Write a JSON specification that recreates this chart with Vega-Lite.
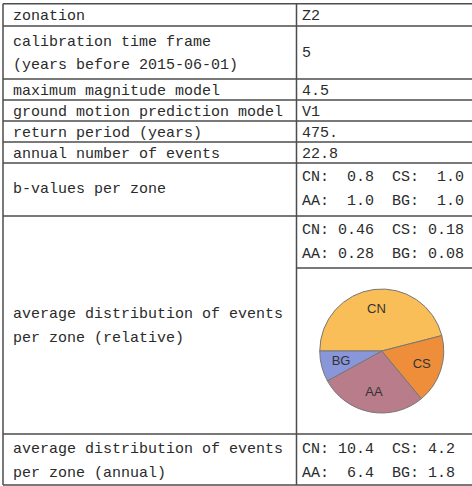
{
  "$schema": "https://vega.github.io/schema/vega-lite/v6.json",
  "width": 472,
  "height": 486,
  "autosize": "none",
  "padding": 0,
  "background": "white",
  "config": {"view": {"stroke": null}},
  "datasets": {
    "rules": [
      {"col": 0, "col2": 4, "slot": 0, "slot2": 0},
      {"col": 0, "col2": 4, "slot": 2, "slot2": 2},
      {"col": 0, "col2": 4, "slot": 5, "slot2": 5},
      {"col": 0, "col2": 4, "slot": 7, "slot2": 7},
      {"col": 0, "col2": 4, "slot": 9, "slot2": 9},
      {"col": 0, "col2": 4, "slot": 11, "slot2": 11},
      {"col": 0, "col2": 4, "slot": 13, "slot2": 13},
      {"col": 0, "col2": 4, "slot": 16, "slot2": 16},
      {"col": 2, "col2": 4, "slot": 19, "slot2": 19},
      {"col": 0, "col2": 4, "slot": 22, "slot2": 22},
      {"col": 0, "col2": 4, "slot": 25, "slot2": 25},
      {"col": 0, "col2": 0, "slot": 0, "slot2": 25},
      {"col": 2, "col2": 2, "slot": 0, "slot2": 25}
    ],
    "texts": [
      {"col": 1, "slot": 1, "text": "zonation"},
      {"col": 3, "slot": 1, "text": "Z2"},
      {"col": 1, "slot": 3, "text": "calibration time frame"},
      {"col": 1, "slot": 4, "text": "(years before 2015-06-01)"},
      {"col": 3, "slot": 3.5, "text": "5"},
      {"col": 1, "slot": 6, "text": "maximum magnitude model"},
      {"col": 3, "slot": 6, "text": "4.5"},
      {"col": 1, "slot": 8, "text": "ground motion prediction model"},
      {"col": 3, "slot": 8, "text": "V1"},
      {"col": 1, "slot": 10, "text": "return period (years)"},
      {"col": 3, "slot": 10, "text": "475."},
      {"col": 1, "slot": 12, "text": "annual number of events"},
      {"col": 3, "slot": 12, "text": "22.8"},
      {"col": 1, "slot": 14.5, "text": "b-values per zone"},
      {"col": 3, "slot": 14, "text": "CN:\u00a0\u00a00.8\u00a0\u00a0CS:\u00a0\u00a01.0"},
      {"col": 3, "slot": 15, "text": "AA:\u00a0\u00a01.0\u00a0\u00a0BG:\u00a0\u00a01.0"},
      {"col": 3, "slot": 17, "text": "CN:\u00a00.46\u00a0\u00a0CS:\u00a00.18"},
      {"col": 3, "slot": 18, "text": "AA:\u00a00.28\u00a0\u00a0BG:\u00a00.08"},
      {"col": 1, "slot": 20, "text": "average distribution of events"},
      {"col": 1, "slot": 21, "text": "per zone (relative)"},
      {"col": 1, "slot": 23, "text": "average distribution of events"},
      {"col": 1, "slot": 24, "text": "per zone (annual)"},
      {"col": 3, "slot": 23, "text": "CN:\u00a010.4\u00a0\u00a0CS:\u00a04.2"},
      {"col": 3, "slot": 24, "text": "AA:\u00a0\u00a06.4\u00a0\u00a0BG:\u00a01.8"}
    ],
    "pie": [
      {"zone": "CN", "share": 0.46, "idx": 1},
      {"zone": "CS", "share": 0.18, "idx": 2},
      {"zone": "AA", "share": 0.28, "idx": 3},
      {"zone": "BG", "share": 0.08, "idx": 4}
    ]
  },
  "layer": [
    {
      "encoding": {
        "x": {"field": "col", "type": "quantitative", "axis": null,
              "scale": {"domain": [0, 1, 2, 3, 4], "range": [3, 13, 296.5, 302, 472], "nice": false, "zero": false}},
        "y": {"field": "slot", "type": "quantitative", "axis": null,
              "scale": {"domain": [0, 1, 2, 3, 4, 5, 6, 7, 8, 9, 10, 11, 12, 13, 14, 15, 16, 17, 18, 19, 20, 21, 22, 23, 24, 25],
                        "range": [3.75, 15, 26, 40.5, 64, 79, 89.5, 100, 110.5, 121, 131.5, 142, 152.5, 163, 176, 199.5, 216, 229, 252.5, 268, 312.5, 337, 434, 447.5, 471.5, 485],
                        "nice": false, "zero": false}}
      },
      "layer": [
        {
          "data": {"name": "rules"},
          "mark": {"type": "rule", "color": "#4d4d4d", "strokeWidth": 1.5},
          "encoding": {"x2": {"field": "col2"}, "y2": {"field": "slot2"}}
        },
        {
          "data": {"name": "texts"},
          "mark": {"type": "text", "align": "left", "baseline": "middle", "font": "Liberation Mono", "fontSize": 15, "color": "#2b2b2b"},
          "encoding": {"text": {"field": "text", "type": "nominal"}}
        }
      ]
    },
    {
      "data": {"name": "pie"},
      "encoding": {
        "x": {"datum": "pie", "type": "nominal", "axis": null, "scale": {"type": "point", "range": [296.5, 467]}},
        "y": {"datum": "pie", "type": "nominal", "axis": null, "scale": {"type": "point", "range": [268, 434]}},
        "theta": {"field": "share", "type": "quantitative", "stack": true, "scale": {"range": [4.71238898, 10.99557429]}},
        "order": {"field": "idx", "type": "quantitative"}
      },
      "layer": [
        {
          "mark": {"type": "arc", "outerRadius": 62, "stroke": "#777777", "strokeWidth": 1},
          "encoding": {
            "color": {"field": "zone", "type": "nominal", "legend": null,
                      "scale": {"domain": ["CN", "CS", "AA", "BG"], "range": ["#F9BE57", "#EE8E3A", "#B87C8A", "#8996DA"]}}
          }
        },
        {
          "mark": {"type": "text", "radius": 42, "font": "Liberation Sans", "fontSize": 13, "color": "#333333", "align": "center", "baseline": "middle"},
          "encoding": {
            "text": {"field": "zone", "type": "nominal"},
            "detail": {"field": "zone", "type": "nominal"}
          }
        }
      ]
    }
  ],
  "resolve": {"scale": {"x": "independent", "y": "independent"}}
}
